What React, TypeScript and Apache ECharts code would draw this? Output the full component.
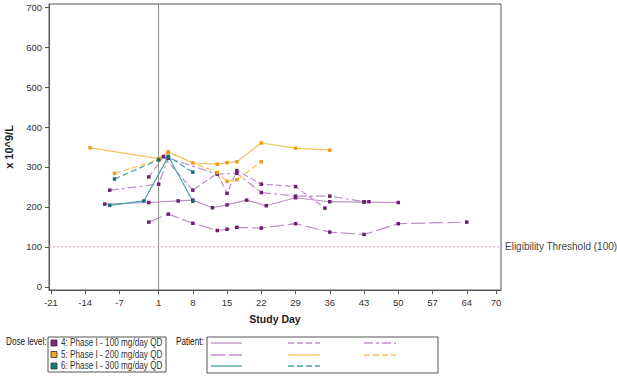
import React, { useEffect, useRef } from "react";
import * as echarts from "echarts";

const xTicks = [-21, -14, -7, 1, 8, 15, 22, 29, 36, 43, 50, 57, 64, 70];
const yTicks = [0, 100, 200, 300, 400, 500, 600, 700];
const threshold = 100;
const dosingStartDay = 1;
const X_MIN = -21.4;
const X_MAX = 71;
const Y_MIN = -8;
const Y_MAX = 708;

const doseLevels = [
  "4: Phase I - 100 mg/day QD",
  "5: Phase I - 200 mg/day QD",
  "6: Phase I - 300 mg/day QD",
];

// [study day, value x10^9/L]
const p401 = [[-10, 207], [-1, 211], [5, 215], [8, 217], [12, 198], [15, 205], [19, 217], [23, 203], [29, 223], [36, 213], [43, 212], [50, 211]];
const p402 = [[-1, 275], [2, 326], [8, 242], [13, 284], [15, 234], [17, 291], [22, 257], [29, 251], [35, 197]];
const p403 = [[-9, 242], [1, 257], [3, 322], [13, 282], [17, 284], [22, 236], [29, 227], [36, 227], [43, 213], [44, 213]];
const p404 = [[-1, 162], [3, 182], [8, 159], [13, 141], [15, 144], [17, 149], [22, 147], [29, 158], [36, 137], [43, 131], [50, 158], [64, 162]];
const p501 = [[-13, 348], [1, 321], [3, 338], [8, 310], [13, 307], [15, 311], [17, 313], [22, 360], [29, 347], [36, 342]];
const p502 = [[-8, 284], [1, 318], [3, 336], [13, 286], [15, 264], [17, 268], [22, 313]];
const p601 = [[-9, 204], [-2, 215], [3, 326], [8, 214]];
const p602 = [[-8, 270], [1, 318], [3, 326], [8, 287]];

const DOSE_FILL = ["#7b2a83", "#f5a623", "#168080"];
const LINE_COL = ["#bf8ec8", "#f7c25a", "#4aa3a3"];
const MARK_COL = ["#6a1f72", "#ee9c1a", "#137171"];

const DASH = [6, 3];
const DASHDOT = [9, 3, 3, 3];
const LONGDASH = [14, 4];

const patients = [
  { data: p401, dose: 0, dash: "solid" as any },
  { data: p402, dose: 0, dash: DASH },
  { data: p403, dose: 0, dash: DASHDOT },
  { data: p404, dose: 0, dash: LONGDASH },
  { data: p501, dose: 1, dash: "solid" as any },
  { data: p502, dose: 1, dash: DASH },
  { data: p601, dose: 2, dash: "solid" as any },
  { data: p602, dose: 2, dash: DASH },
];

const FONT = "Arial, 'Liberation Sans', sans-serif";
const NARROW_SCALE = 0.82;

export default function App() {
  const ref = useRef<HTMLDivElement>(null);
  useEffect(() => {
    if (!ref.current) return;
    const chart = echarts.init(ref.current, undefined, { renderer: "svg" });

    const series: any[] = [];
    series.push({
      type: "line",
      data: [[dosingStartDay, Y_MIN], [dosingStartDay, Y_MAX]],
      symbol: "none",
      silent: true,
      lineStyle: { color: "#8a8a8a", width: 1, type: "solid" },
      z: 1,
    });
    series.push({
      type: "line",
      data: [[X_MIN, threshold], [X_MAX, threshold]],
      symbol: "none",
      silent: true,
      lineStyle: { color: "#dba0a0", width: 1, type: [2, 2] },
      endLabel: {
        show: true,
        distance: 4,
        formatter: "Eligibility Threshold (100)",
        color: "#444",
        fontSize: 10,
        fontFamily: FONT,
      },
      z: 1,
    });
    patients.forEach((p) => {
      series.push({
        type: "line",
        data: p.data,
        symbol: "rect",
        symbolSize: 3.5,
        itemStyle: { color: MARK_COL[p.dose] },
        lineStyle: { color: LINE_COL[p.dose], width: 1.2, type: p.dash },
        z: 3,
      });
    });

    const narrowText = (text: string, x: number, y: number, color: string) => ({
      type: "text",
      x,
      y,
      scaleX: NARROW_SCALE,
      style: { text, font: `10px ${FONT}`, fill: color, verticalAlign: "middle", align: "left" },
    });

    const graphic: any[] = [];
    graphic.push(narrowText("Dose level:", 6, 342, "#111"));
    graphic.push({ type: "rect", shape: { x: 48, y: 337, width: 118, height: 35 }, style: { fill: "none", stroke: "#555", lineWidth: 1 } });
    const rows = [343, 354.5, 366];
    doseLevels.forEach((t, i) => {
      graphic.push({ type: "rect", shape: { x: 51, y: rows[i] - 3, width: 6, height: 6 }, style: { fill: DOSE_FILL[i], stroke: "#333", lineWidth: 0.8 } });
      graphic.push(narrowText(t, 61, rows[i], "#333"));
    });
    graphic.push(narrowText("Patient:", 176, 342, "#111"));
    graphic.push({ type: "rect", shape: { x: 207, y: 337, width: 231, height: 36 }, style: { fill: "none", stroke: "#555", lineWidth: 1 } });
    const cols = [[211, 242], [288, 320], [364, 396]];
    const pRows = [343, 355, 366];
    patients.forEach((p, i) => {
      const r = Math.floor(i / 3);
      const c = i % 3;
      graphic.push({
        type: "line",
        shape: { x1: cols[c][0], y1: pRows[r], x2: cols[c][1], y2: pRows[r] },
        style: { stroke: LINE_COL[p.dose], lineWidth: 1.3, lineDash: p.dash === "solid" ? null : p.dash },
      });
    });

    chart.setOption({
      animation: false,
      grid: {
        left: 49, right: 116, top: 4, bottom: 87,
        show: true, borderColor: "#555", borderWidth: 1,
        containLabel: false, outerBoundsMode: "none",
      },
      xAxis: {
        type: "value",
        min: X_MIN,
        max: X_MAX,
        name: "Study Day",
        nameLocation: "middle",
        nameGap: 23,
        nameTextStyle: { fontFamily: FONT, fontSize: 10.5, fontWeight: "bold", color: "#222" },
        axisLine: { show: true, onZero: false, lineStyle: { color: "#555" } },
        axisTick: { show: true, length: 4, lineStyle: { color: "#555" }, customValues: xTicks },
        axisLabel: { customValues: xTicks, color: "#333", fontSize: 9.5, fontFamily: FONT, margin: 7 },
        splitLine: { show: false },
      },
      yAxis: {
        type: "value",
        min: Y_MIN,
        max: Y_MAX,
        name: "x 10^9/L",
        nameLocation: "middle",
        nameGap: 35,
        nameRotate: 90,
        nameTextStyle: { fontFamily: FONT, fontSize: 11, fontWeight: "bold", color: "#222" },
        axisLine: { show: true, onZero: false, lineStyle: { color: "#555" } },
        axisTick: { show: true, length: 4, lineStyle: { color: "#555" }, customValues: yTicks },
        axisLabel: { customValues: yTicks, color: "#333", fontSize: 9.5, fontFamily: FONT, margin: 7 },
        splitLine: { show: false },
      },
      series,
      graphic,
    });
    return () => chart.dispose();
  }, []);
  return (
    <div
      ref={ref}
      style={{ position: "fixed", left: 0, top: 0, width: 617, height: 377, background: "#fff" }}
    />
  );
}
